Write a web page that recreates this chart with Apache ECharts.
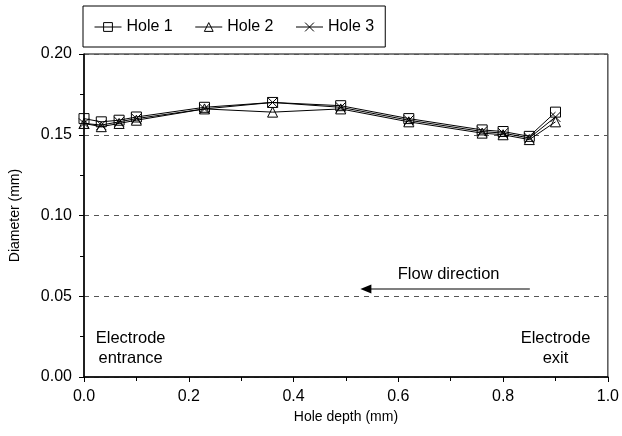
<!DOCTYPE html>
<html>
<head>
<meta charset="utf-8">
<script src="https://cdn.jsdelivr.net/npm/echarts@6/dist/echarts.min.js"></script>
<style>
html,body{margin:0;padding:0;background:#fff;}
#chart{width:622px;height:436px;}
</style>
</head>
<body>
<div id="chart"></div>
<script>
const holeDepth = [0, 0.033, 0.067, 0.1, 0.23, 0.36, 0.49, 0.62, 0.76, 0.8, 0.85, 0.9];
const hole1 = [0.160, 0.158, 0.159, 0.161, 0.167, 0.170, 0.168, 0.160, 0.153, 0.152, 0.149, 0.164];
const hole2 = [0.157, 0.155, 0.157, 0.159, 0.166, 0.164, 0.166, 0.158, 0.151, 0.150, 0.147, 0.158];
const hole3 = [0.157, 0.156, 0.158, 0.160, 0.166, 0.170, 0.167, 0.159, 0.152, 0.151, 0.148, 0.161];
const seriesNames = ['Hole 1', 'Hole 2', 'Hole 3'];
const xTicks = [0, 0.2, 0.4, 0.6, 0.8, 1.0];
const yTicks = [0, 0.05, 0.10, 0.15, 0.20];
const annoTexts = ['Flow direction', 'Electrode\nentrance', 'Electrode\nexit'];

const FONT = 'Liberation Sans, Arial, sans-serif';
const pairs = arr => holeDepth.map((x, i) => [x, arr[i]]);

const baseSeries = (name, data, symbol, size, itemStyle) => ({
  name, type: 'line', data: pairs(data), symbol, symbolSize: size,
  lineStyle: {color: '#000', width: 1},
  itemStyle: itemStyle,
  emphasis: {disabled: true},
  animation: false,
  z: 3
});

const chart = echarts.init(document.getElementById('chart'), null, {renderer: 'canvas'});
const s1 = baseSeries(seriesNames[0], hole1, 'rect', 10, {color: 'rgba(0,0,0,0)', borderColor: '#000', borderWidth: 1});
const s2 = baseSeries(seriesNames[1], hole2, 'triangle', 10, {color: 'rgba(0,0,0,0)', borderColor: '#000', borderWidth: 1});
const s3 = baseSeries(seriesNames[2], hole3, 'path://M0,0L10,10M10,0L0,10', 10, {color: 'rgba(0,0,0,0)', borderColor: '#000', borderWidth: 1});

const annoLabel = (text) => ({show: true, position: 'inside', formatter: text, color: '#000', fontSize: 16.5, lineHeight: 20, fontFamily: FONT});

s1.markLine = {
  silent: true, symbol: ['none', 'none'], animation: false,
  lineStyle: {color: '#555', width: 1.6, type: 'solid'},
  label: {show: false},
  data: [[{coord: [0.851, 0.0545]}, {coord: [0.545, 0.0545]}]]
};
s1.markPoint = {
  silent: true, animation: false,
  data: [
    {coord: [0.538, 0.0545], symbol: 'triangle', symbolSize: [9, 11], symbolRotate: 90,
     itemStyle: {color: '#000', borderWidth: 0}, label: {show: false}},
    {coord: [0.696, 0.0632], symbol: 'circle', symbolSize: 0, label: annoLabel(annoTexts[0])},
    {coord: [0.089, 0.0175], symbol: 'circle', symbolSize: 0, label: annoLabel(annoTexts[1])},
    {coord: [0.9, 0.0175], symbol: 'circle', symbolSize: 0, label: annoLabel(annoTexts[2])}
  ]
};

chart.setOption({
  backgroundColor: '#fff',
  animation: false,
  textStyle: {fontFamily: FONT},
  legend: {
    data: seriesNames,
    left: 83, top: 6,
    padding: [13, 11, 12, 11],
    itemGap: 22, itemWidth: 27, itemHeight: 11,
    borderColor: '#000', borderWidth: 1,
    itemStyle: {borderWidth: 1, borderColor: '#000'},
    lineStyle: {width: 1, color: '#000'},
    textStyle: {fontSize: 16, color: '#000', fontFamily: FONT},
    selectedMode: false
  },
  grid: {
    left: 83, right: 10, top: 54, bottom: 59,
    show: true, borderColor: '#000', borderWidth: 1, backgroundColor: 'transparent'
  },
  xAxis: {
    type: 'value', min: xTicks[0], max: xTicks[xTicks.length - 1], interval: 0.2,
    name: 'Hole depth (mm)', nameLocation: 'middle', nameGap: 29,
    nameTextStyle: {fontSize: 14, color: '#000', fontFamily: FONT},
    axisLine: {lineStyle: {color: '#000', width: 1.5}},
    axisTick: {show: true, length: 5, inside: false, lineStyle: {color: '#000'}},
    minorTick: {show: true, splitNumber: 2, length: 4, lineStyle: {color: '#000'}},
    splitLine: {show: false},
    axisLabel: {fontSize: 16, color: '#000', margin: 12, fontFamily: FONT, formatter: v => v.toFixed(1)}
  },
  yAxis: {
    type: 'value', min: yTicks[0], max: yTicks[yTicks.length - 1], interval: 0.05,
    name: 'Diameter (mm)', nameLocation: 'middle', nameGap: 62,
    nameTextStyle: {fontSize: 14, color: '#000', fontFamily: FONT},
    axisLine: {show: true, lineStyle: {color: '#000', width: 1.5}},
    axisTick: {show: true, length: 5, inside: false, lineStyle: {color: '#000'}},
    minorTick: {show: true, splitNumber: 2, length: 4, lineStyle: {color: '#000'}},
    splitLine: {show: true, lineStyle: {color: '#555', type: [5, 5], width: 1}},
    axisLabel: {fontSize: 16, color: '#000', margin: 12, fontFamily: FONT, formatter: v => v.toFixed(2)}
  },
  series: [s1, s2, s3]
});
</script>
</body>
</html>
